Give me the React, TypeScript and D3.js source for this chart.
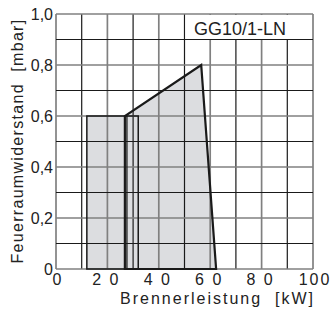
import React from "react";
import * as d3 from "d3";

const xTicks = [0, 20, 40, 60, 80, 100];
const xTickLabels = ["0", "2 0", "4 0", "6 0", "8 0", "100"];
const yTicks = [0, 0.2, 0.4, 0.6, 0.8, 1.0];
const yTickLabels = ["0", "0,2", "0,4", "0,6", "0,8", "1,0"];
const gridX = d3.range(0, 101, 10);
const gridY = d3.range(0, 1.01, 0.1).map((v) => Math.round(v * 10) / 10);

// Operating field polygons [kW, mbar]
const rectField: [number, number][] = [
  [12, 0],
  [12, 0.6],
  [32, 0.6],
  [32, 0],
];
const mainField: [number, number][] = [
  [26.8, 0],
  [26.8, 0.6],
  [56.5, 0.8],
  [62.3, 0],
];
const innerLine: [number, number][] = [
  [27.6, 0],
  [27.6, 0.6],
];
const modelLabel = "GG10/1-LN";
const xTitle = "Brennerleistung  [kW]";
const yTitle = "Feuerraumwiderstand  [mbar]";

const W = 331;
const H = 310;
const left = 56;
const right = 313;
const top = 14;
const bottom = 269;

export default function App() {
  const x = d3.scaleLinear().domain([0, 100]).range([left, right]);
  const y = d3.scaleLinear().domain([0, 1]).range([bottom, top]);
  const line = d3
    .line<[number, number]>()
    .x((d) => x(d[0]))
    .y((d) => y(d[1]));
  const font = "'Liberation Sans', Arial, Helvetica, sans-serif";
  const isMajorX = (v: number) => v % 20 === 0;
  const isMajorY = (v: number) => Math.round(v * 10) % 2 === 0;
  const pre = { whiteSpace: "pre" as const };

  return (
    <svg
      width={W}
      height={H}
      style={{ position: "absolute", left: 0, top: 0 }}
      fontFamily={font}
    >
      <rect x={0} y={0} width={W} height={H} fill="#fff" />
      {/* fills */}
      <path d={line(rectField)! + "Z"} fill="#dcdde0" stroke="none" />
      <path d={line(mainField)! + "Z"} fill="#dcdde0" stroke="none" />
      {/* grid */}
      {gridX.map((v) => (
        <line
          key={"gx" + v}
          x1={x(v)}
          x2={x(v)}
          y1={y(0)}
          y2={y(1)}
          stroke={isMajorX(v) ? "#808080" : "#1a1a1a"}
          strokeWidth={isMajorX(v) ? 1.7 : 1.2}
        />
      ))}
      {gridY.map((v) => (
        <line
          key={"gy" + v}
          x1={x(0)}
          x2={x(100)}
          y1={y(v)}
          y2={y(v)}
          stroke={isMajorY(v) ? "#808080" : "#1a1a1a"}
          strokeWidth={isMajorY(v) ? 1.7 : 1.2}
        />
      ))}
      {/* label box */}
      <rect
        x={x(50) + 1}
        y={y(1) + 1}
        width={x(100) - x(50) - 2}
        height={y(0.9) - y(1) - 1.5}
        fill="#fff"
      />
      <text x={194} y={35} fontSize={18} fill="#222">
        {modelLabel}
      </text>
      {/* outlines */}
      <path
        d={line(rectField)! + "Z"}
        fill="none"
        stroke="#1a1a1a"
        strokeWidth={1.5}
      />
      <path
        d={line(innerLine)!}
        fill="none"
        stroke="#1a1a1a"
        strokeWidth={1.3}
      />
      <path
        d={line(mainField)! + "Z"}
        fill="none"
        stroke="#1a1a1a"
        strokeWidth={2.2}
        strokeLinejoin="miter"
      />
      {/* y ticks */}
      {yTicks.map((v, i) => (
        <text
          key={"yt" + v}
          x={53}
          y={y(v)}
          dy="0.36em"
          textAnchor="end"
          fontSize={16}
          fill="#222"
        >
          {yTickLabels[i]}
        </text>
      ))}
      {/* x ticks */}
      {xTicks.map((v, i) => (
        <text
          key={"xt" + v}
          x={x(v) + (v === 0 ? 2 : v === 100 ? 2 : -1)}
          y={285}
          textAnchor="middle"
          fontSize={16}
          letterSpacing={2}
          fill="#222"
          style={pre}
        >
          {xTickLabels[i]}
        </text>
      ))}
      <text
        x={315}
        y={304}
        textAnchor="end"
        fontSize={16}
        letterSpacing={2}
        fill="#222"
        style={pre}
      >
        {xTitle}
      </text>
      <text
        transform={`translate(23,141) rotate(-90)`}
        textAnchor="middle"
        fontSize={16}
        letterSpacing={1.3}
        fill="#222"
        style={pre}
      >
        {yTitle}
      </text>
    </svg>
  );
}
